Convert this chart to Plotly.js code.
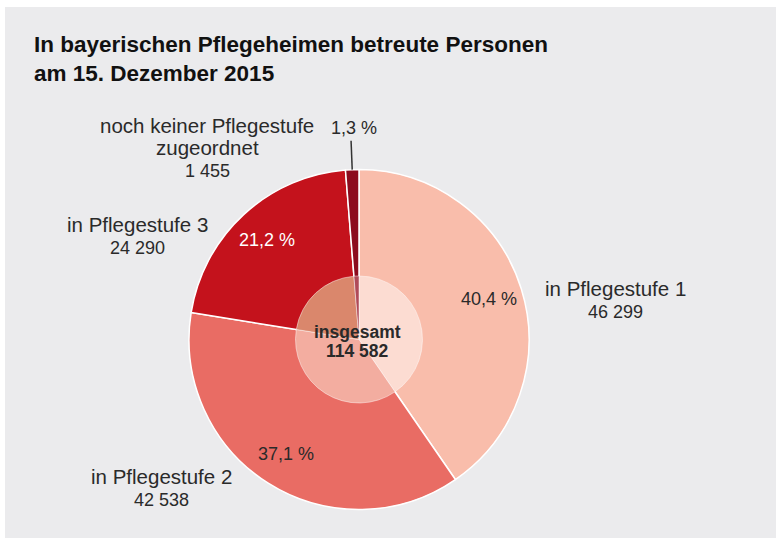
<!DOCTYPE html>
<html>
<head>
<meta charset="utf-8">
<script src="https://cdn.plot.ly/plotly-3.0.1.min.js"></script>
<style>html,body{margin:0;padding:0;background:#fff;}#chart{width:776px;height:538px;}</style>
</head>
<body>
<div id="chart"></div>
<script>
// ---- data ----
const titleLines = ['In bayerischen Pflegeheimen betreute Personen', 'am 15. Dezember 2015'];
const categories = ['in Pflegestufe 1', 'in Pflegestufe 2', 'in Pflegestufe 3', 'noch keiner Pflegestufe zugeordnet'];
const labelLines = [['in Pflegestufe 1'], ['in Pflegestufe 2'], ['in Pflegestufe 3'], ['noch keiner Pflegestufe', 'zugeordnet']];
const values = [46299, 42538, 24290, 1455];
const centerCaption = 'insgesamt';
const colors = ['#f9bdab', '#e96c64', '#c4121c', '#8c0b1e'];
const innerColors = ['#fcdcd2', '#f3ada0', '#da876c', '#b04a58'];
const pctColors = ['#2a2a2a', '#2a2a2a', '#ffffff', '#2a2a2a'];

// ---- helpers ----
const W = 776, H = 538;
const FONT = '"Liberation Sans", Arial, Helvetica, sans-serif';
const TXT = '#2a2a2a';
const px = x => x / W;
const py = y => 1 - y / H;
const fmt = n => String(n).replace(/\B(?=(\d{3})+(?!\d))/g, ' ');
const total = values.reduce((a, b) => a + b, 0);
const pctText = v => (v / total * 100).toFixed(1).replace('.', ',') + ' %';

// pie geometry (pixels)
const cx = 359, cy = 339.5, R = 170, Ri = 63.5;

const annotations = [];
function addText(text, x, baseline, size, opts) {
  opts = opts || {};
  annotations.push({
    text: text, showarrow: false, xref: 'paper', yref: 'paper',
    x: px(x), y: py(baseline - 0.35 * size),
    xanchor: opts.xanchor || 'center', yanchor: 'middle',
    font: {family: FONT, size: size, color: opts.color || TXT}
  });
}

// category labels (name lines + value)
const labelAnchors = [[615.5, 295.7], [161, 484], [137, 231.7], [207, 133]];
labelLines.forEach((lines, i) => {
  const [x, y0] = labelAnchors[i];
  lines.forEach((ln, j) => addText(ln, x, y0 + j * 22, 20.5));
  addText(fmt(values[i]), x, y0 + lines.length * 22 + 0.5, 18);
});

// percentage labels, placed from the slice angles
const shapes = [];
let cum = 0;
values.forEach((v, i) => {
  const mid = (cum + v / 2) / total * 2 * Math.PI;
  cum += v;
  const share = v / total;
  const rr = share > 0.05 ? 0.8 * R : 1.245 * R;
  const x = cx + rr * Math.sin(mid) + (share > 0.05 ? 0 : 3);
  const yc = cy - rr * Math.cos(mid);
  annotations.push({
    text: pctText(v), showarrow: false, xref: 'paper', yref: 'paper',
    x: px(x), y: py(yc), xanchor: 'center', yanchor: 'middle',
    font: {family: FONT, size: 18, color: pctColors[i]}
  });
  if (share <= 0.05) {
    shapes.push({
      type: 'line', xref: 'paper', yref: 'paper', layer: 'above',
      x0: px(cx + R * Math.sin(mid)), y0: py(cy - R * Math.cos(mid)),
      x1: px(cx + 1.17 * R * Math.sin(mid)), y1: py(cy - 1.17 * R * Math.cos(mid)),
      line: {color: '#333', width: 1.5}
    });
  }
});

// centre text
addText('<b>' + centerCaption + '</b>', cx - 2, 338, 17.5);
addText('<b>' + fmt(total) + '</b>', cx - 2, 357, 17.5);

// grey panel
shapes.unshift({
  type: 'rect', xref: 'paper', yref: 'paper', layer: 'below',
  x0: px(5), x1: px(776), y0: py(538), y1: py(7),
  fillcolor: '#ebebed', line: {width: 0}
});

const traces = [
  {
    type: 'pie', labels: categories, values: values, sort: false,
    direction: 'clockwise', rotation: 0, textinfo: 'none', hoverinfo: 'skip',
    marker: {colors: colors, line: {color: '#ffffff', width: 1.5}},
    domain: {x: [px(cx - R), px(cx + R)], y: [py(cy + R), py(cy - R)]},
    showlegend: false
  },
  {
    type: 'pie', labels: categories, values: values, sort: false,
    direction: 'clockwise', rotation: 0, textinfo: 'none', hoverinfo: 'skip',
    marker: {colors: innerColors, line: {color: 'rgba(255,255,255,0.45)', width: 1}},
    domain: {x: [px(cx - Ri), px(cx + Ri)], y: [py(cy + Ri), py(cy - Ri)]},
    showlegend: false
  }
];

const layout = {
  width: W, height: H,
  margin: {l: 0, r: 0, t: 0, b: 0},
  paper_bgcolor: '#ffffff',
  showlegend: false,
  title: {
    text: '<b>' + titleLines.join('<br>') + '</b>',
    xref: 'container', yref: 'container',
    x: px(34), xanchor: 'left',
    y: py(52), yanchor: 'top',
    font: {family: FONT, size: 22.5, color: '#111'}
  },
  annotations: annotations,
  shapes: shapes
};

Plotly.newPlot('chart', traces, layout, {displayModeBar: false, staticPlot: true});
</script>
</body>
</html>
